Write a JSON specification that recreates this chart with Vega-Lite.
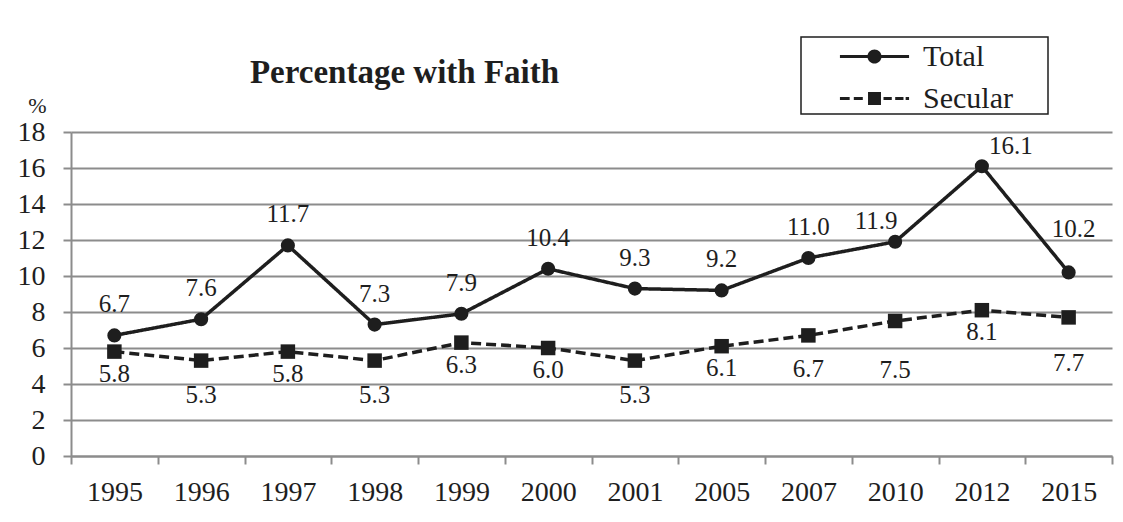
{
  "$schema": "https://vega.github.io/schema/vega-lite/v6.json",
  "width": 1041,
  "height": 324,
  "autosize": {"type": "none"},
  "padding": {"left": 71, "top": 132, "right": 11, "bottom": 66},
  "background": "white",
  "title": {"text": "Percentage with Faith", "anchor": "middle", "dx": -187, "offset": -70, "fontSize": 33, "fontWeight": "bold", "font": "Liberation Serif", "color": "#1e1e1e", "baseline": "middle", "frame": "group"},
  "data": {"values": [
    {"year": "1995", "series": "Total", "value": 6.7},
    {"year": "1996", "series": "Total", "value": 7.6},
    {"year": "1997", "series": "Total", "value": 11.7},
    {"year": "1998", "series": "Total", "value": 7.3},
    {"year": "1999", "series": "Total", "value": 7.9},
    {"year": "2000", "series": "Total", "value": 10.4},
    {"year": "2001", "series": "Total", "value": 9.3},
    {"year": "2005", "series": "Total", "value": 9.2},
    {"year": "2007", "series": "Total", "value": 11.0},
    {"year": "2010", "series": "Total", "value": 11.9},
    {"year": "2012", "series": "Total", "value": 16.1},
    {"year": "2015", "series": "Total", "value": 10.2},
    {"year": "1995", "series": "Secular", "value": 5.8},
    {"year": "1996", "series": "Secular", "value": 5.3},
    {"year": "1997", "series": "Secular", "value": 5.8},
    {"year": "1998", "series": "Secular", "value": 5.3},
    {"year": "1999", "series": "Secular", "value": 6.3},
    {"year": "2000", "series": "Secular", "value": 6.0},
    {"year": "2001", "series": "Secular", "value": 5.3},
    {"year": "2005", "series": "Secular", "value": 6.1},
    {"year": "2007", "series": "Secular", "value": 6.7},
    {"year": "2010", "series": "Secular", "value": 7.5},
    {"year": "2012", "series": "Secular", "value": 8.1},
    {"year": "2015", "series": "Secular", "value": 7.7}
  ]},
  "encoding": {
    "x": {"field": "year", "type": "ordinal", "scale": {"type": "band", "paddingInner": 0, "paddingOuter": 0},
      "axis": {"title": null, "labelAngle": 0, "tickBand": "extent", "domainColor": "#8c8c8c", "domainWidth": 2, "tickColor": "#8c8c8c", "tickWidth": 2, "tickSize": 8, "labelFontSize": 28, "labelFont": "Liberation Serif", "labelColor": "#1e1e1e", "labelPadding": 14, "grid": false}},
    "y": {"field": "value", "type": "quantitative", "scale": {"domain": [0, 18], "nice": false},
      "axis": {"title": "%", "titleAngle": 0, "titleX": -34, "titleY": -27, "titleAlign": "center", "titleBaseline": "middle", "titleFontSize": 22, "titleFont": "Liberation Serif", "titleFontWeight": "normal", "titleColor": "#1e1e1e", "values": [0, 2, 4, 6, 8, 10, 12, 14, 16, 18], "grid": true, "gridColor": "#8c8c8c", "gridWidth": 2, "domainColor": "#8c8c8c", "domainWidth": 2, "tickColor": "#8c8c8c", "tickWidth": 2, "tickSize": 8, "labelFontSize": 28, "labelFont": "Liberation Serif", "labelPadding": 18, "labelColor": "#1e1e1e"}}
  },
  "layer": [
    {
      "mark": {"type": "line", "strokeWidth": 3.5, "color": "#1e1e1e"},
      "encoding": {
        "strokeDash": {"field": "series", "type": "nominal", "scale": {"domain": ["Total", "Secular"], "range": [[1, 0], [10, 5]]}, "legend": null}
      }
    },
    {
      "mark": {"type": "point", "filled": true, "opacity": 1, "color": "#1e1e1e"},
      "encoding": {
        "shape": {"field": "series", "type": "nominal", "scale": {"domain": ["Total", "Secular"], "range": ["circle", "square"]}, "legend": null},
        "size": {"condition": {"test": "datum.series === 'Total'", "value": 200}, "value": 210}
      }
    },
    {
      "mark": {"type": "point", "filled": true, "fill": "#1e1e1e", "stroke": "#1e1e1e", "strokeWidth": 3, "opacity": 0},
      "encoding": {
        "shape": {"field": "series", "type": "nominal",
          "scale": {"domain": ["Total", "Secular"], "range": [
            "M-4.05,0M9.3,0M-1.92,-0.09H1.92V0.09H-1.92ZM-0.39,0A0.39,0.39 0 1 1 0.39,0A0.39,0.39 0 1 1 -0.39,0Z",
            "M-4.05,0M9.3,0M-1.92,-0.09H-1.38V0.09H-1.92ZM-1.15,-0.09H-0.65V0.09H-1.15ZM-0.36,-0.36H0.36V0.36H-0.36ZM0.5,-0.09H0.96V0.09H0.5ZM1.15,-0.09H1.61V0.09H1.15ZM1.73,-0.09H1.92V0.09H1.73Z"]},
          "legend": {"orient": "none", "legendX": 730, "legendY": -95, "title": null, "padding": 0, "strokeColor": "#1e1e1e", "fillColor": "white", "labelFontSize": 30, "labelFont": "Liberation Serif", "labelColor": "#1e1e1e", "labelLimit": 400, "symbolSize": 1296, "symbolStrokeWidth": 3, "symbolFillColor": "#1e1e1e", "symbolStrokeColor": "#1e1e1e", "symbolOpacity": 1, "symbolOffset": 54, "labelOffset": 29, "rowPadding": 7}
        }
      }
    },
    {
      "transform": [{"filter": "datum.series === 'Total' && indexof(['2010','2012','2015'], datum.year) < 0"}],
      "mark": {"type": "text", "dy": -31, "fontSize": 25, "font": "Liberation Serif", "color": "#1e1e1e", "baseline": "middle", "align": "center"},
      "encoding": {"text": {"field": "value", "type": "quantitative", "format": ".1f"}}
    },
    {
      "transform": [{"filter": "datum.series === 'Total' && datum.year === '2010'"}],
      "mark": {"type": "text", "dx": -19, "dy": -21, "fontSize": 25, "font": "Liberation Serif", "color": "#1e1e1e", "baseline": "middle", "align": "center"},
      "encoding": {"text": {"field": "value", "type": "quantitative", "format": ".1f"}}
    },
    {
      "transform": [{"filter": "datum.series === 'Total' && datum.year === '2012'"}],
      "mark": {"type": "text", "dx": 29, "dy": -20, "fontSize": 25, "font": "Liberation Serif", "color": "#1e1e1e", "baseline": "middle", "align": "center"},
      "encoding": {"text": {"field": "value", "type": "quantitative", "format": ".1f"}}
    },
    {
      "transform": [{"filter": "datum.series === 'Total' && datum.year === '2015'"}],
      "mark": {"type": "text", "dx": 5, "dy": -43, "fontSize": 25, "font": "Liberation Serif", "color": "#1e1e1e", "baseline": "middle", "align": "center"},
      "encoding": {"text": {"field": "value", "type": "quantitative", "format": ".1f"}}
    },
    {
      "transform": [{"filter": "datum.series === 'Secular' && indexof(['1995','1997','1999','2000','2005','2012'], datum.year) >= 0"}],
      "mark": {"type": "text", "dy": 22, "fontSize": 25, "font": "Liberation Serif", "color": "#1e1e1e", "baseline": "middle", "align": "center"},
      "encoding": {"text": {"field": "value", "type": "quantitative", "format": ".1f"}}
    },
    {
      "transform": [{"filter": "datum.series === 'Secular' && indexof(['1996','1998','2001','2007'], datum.year) >= 0"}],
      "mark": {"type": "text", "dy": 34, "fontSize": 25, "font": "Liberation Serif", "color": "#1e1e1e", "baseline": "middle", "align": "center"},
      "encoding": {"text": {"field": "value", "type": "quantitative", "format": ".1f"}}
    },
    {
      "transform": [{"filter": "datum.series === 'Secular' && datum.year === '2010'"}],
      "mark": {"type": "text", "dy": 49, "fontSize": 25, "font": "Liberation Serif", "color": "#1e1e1e", "baseline": "middle", "align": "center"},
      "encoding": {"text": {"field": "value", "type": "quantitative", "format": ".1f"}}
    },
    {
      "transform": [{"filter": "datum.series === 'Secular' && datum.year === '2015'"}],
      "mark": {"type": "text", "dy": 46, "fontSize": 25, "font": "Liberation Serif", "color": "#1e1e1e", "baseline": "middle", "align": "center"},
      "encoding": {"text": {"field": "value", "type": "quantitative", "format": ".1f"}}
    }
  ],
  "resolve": {"scale": {"shape": "independent"}, "legend": {"shape": "independent"}},
  "config": {"view": {"stroke": null}, "font": "Liberation Serif", "legend": {"strokeWidth": 1.5}}
}
